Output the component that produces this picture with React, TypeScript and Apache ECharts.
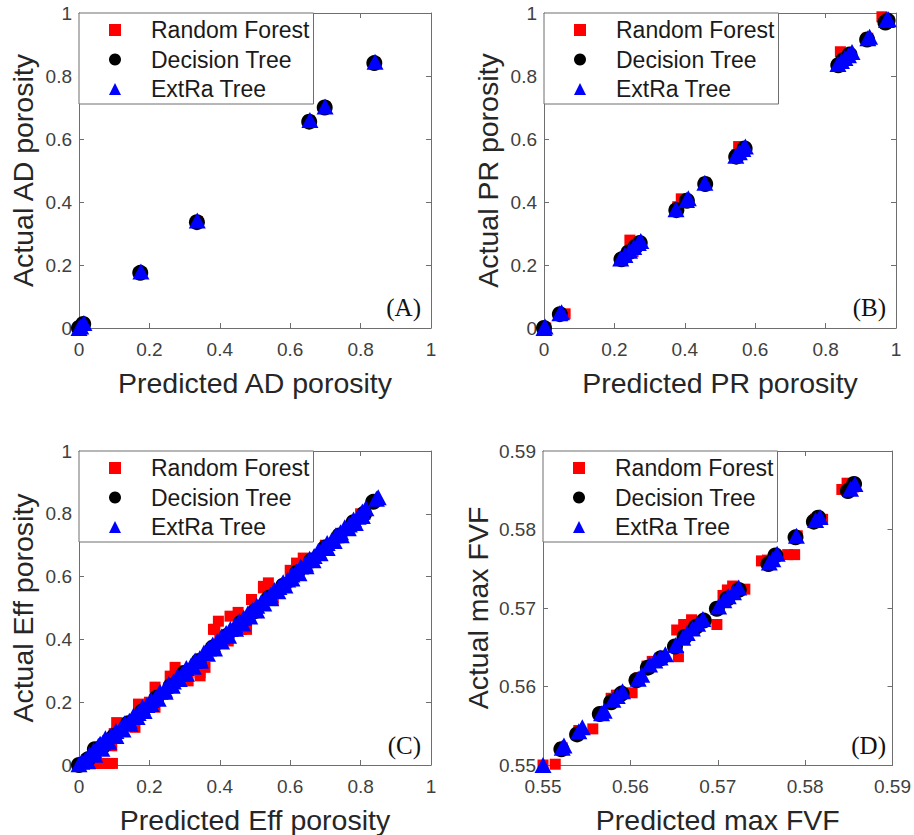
import React, { useEffect, useRef } from "react";
import * as echarts from "echarts";

type Pt = [number, number];

const seriesNames = ["Random Forest", "Decision Tree", "ExtRa Tree"];
const panelLabels = ["(A)", "(B)", "(C)", "(D)"];
const xTitles = ["Predicted AD porosity", "Predicted PR porosity", "Predicted Eff porosity", "Predicted max FVF"];
const yTitles = ["Actual AD porosity", "Actual PR porosity", "Actual Eff porosity", "Actual max FVF"];
const axisMin = [0, 0, 0, 0.55];
const axisMax = [1, 1, 1, 0.59];
const axisStep = [0.2, 0.2, 0.2, 0.01];
const labelDigits = [1, 1, 1, 2];

// Panel A: AD porosity
const rfA: Pt[] = [[0, 0], [0.01, 0.01], [0.175, 0.176], [0.336, 0.338], [0.655, 0.657], [0.699, 0.701], [0.84, 0.843]];
const dtA: Pt[] = [[0, 0], [0.012, 0.013], [0.174, 0.175], [0.335, 0.336], [0.654, 0.655], [0.698, 0.7], [0.839, 0.841]];
const etA: Pt[] = [[0, 0], [0.005, 0.005], [0.014, 0.016], [0.176, 0.179], [0.336, 0.341], [0.656, 0.66], [0.699, 0.703], [0.841, 0.845]];

// Panel B: PR porosity
const rfB: Pt[] = [[0.005, 0], [0.06, 0.045], [0.22, 0.22], [0.244, 0.279], [0.253, 0.242], [0.268, 0.27], [0.38, 0.385], [0.39, 0.41], [0.458, 0.46], [0.553, 0.576], [0.548, 0.55], [0.842, 0.877], [0.85, 0.86], [0.92, 0.92], [0.96, 0.988], [0.975, 0.975]];
const dtB: Pt[] = [[0, 0], [0.045, 0.044], [0.22, 0.218], [0.24, 0.24], [0.26, 0.258], [0.272, 0.27], [0.376, 0.374], [0.406, 0.404], [0.458, 0.457], [0.546, 0.544], [0.57, 0.57], [0.836, 0.834], [0.85, 0.85], [0.868, 0.868], [0.918, 0.916], [0.97, 0.97], [0.976, 0.976]];
const etB: Pt[] = [[0, 0], [0.003, 0.005], [0.045, 0.047], [0.05, 0.05], [0.218, 0.221], [0.23, 0.232], [0.243, 0.245], [0.255, 0.257], [0.268, 0.27], [0.275, 0.276], [0.375, 0.377], [0.405, 0.406], [0.41, 0.412], [0.457, 0.461], [0.545, 0.547], [0.555, 0.558], [0.565, 0.568], [0.572, 0.576], [0.835, 0.838], [0.845, 0.848], [0.855, 0.857], [0.865, 0.866], [0.875, 0.876], [0.92, 0.92], [0.925, 0.925], [0.973, 0.978], [0.978, 0.98]];

// Panel C: Eff porosity
const rfC: Pt[] = [[0.005, 0.0], [0.04, 0.005], [0.055, 0.005], [0.07, 0.005], [0.085, 0.005], [0.095, 0.005], [0.093, 0.061], [0.1, 0.1], [0.107, 0.135], [0.159, 0.12], [0.169, 0.194], [0.173, 0.188], [0.2, 0.2], [0.211, 0.188], [0.216, 0.248], [0.216, 0.184], [0.259, 0.283], [0.273, 0.311], [0.3, 0.3], [0.306, 0.273], [0.31, 0.268], [0.344, 0.284], [0.344, 0.294], [0.358, 0.311], [0.382, 0.432], [0.386, 0.432], [0.396, 0.458], [0.4, 0.4], [0.42, 0.4], [0.424, 0.395], [0.429, 0.474], [0.452, 0.486], [0.462, 0.432], [0.476, 0.432], [0.49, 0.527], [0.5, 0.5], [0.505, 0.485], [0.524, 0.564], [0.524, 0.569], [0.538, 0.58], [0.547, 0.532], [0.552, 0.527], [0.59, 0.58], [0.6, 0.62], [0.618, 0.643], [0.637, 0.659], [0.7, 0.7], [0.8, 0.8], [0.84, 0.84]];
const dtC: Pt[] = [[0, 0], [0.025, 0.018], [0.045, 0.05], [0.065, 0.056], [0.1, 0.092], [0.14, 0.133], [0.18, 0.171], [0.22, 0.214], [0.26, 0.251], [0.3, 0.293], [0.34, 0.331], [0.38, 0.374], [0.42, 0.411], [0.46, 0.453], [0.5, 0.49], [0.54, 0.533], [0.58, 0.571], [0.62, 0.613], [0.66, 0.651], [0.7, 0.693], [0.74, 0.731], [0.78, 0.773], [0.81, 0.8], [0.836, 0.838]];
const etC: Pt[] = [[0, 0.002], [0.008, 0.01], [0.018, 0.016], [0.03, 0.034], [0.042, 0.047], [0.055, 0.061], [0.06, 0.068], [0.068, 0.072], [0.075, 0.085], [0.08, 0.079], [0.092, 0.095], [0.105, 0.108], [0.118, 0.116], [0.13, 0.133], [0.143, 0.141], [0.155, 0.158], [0.168, 0.166], [0.18, 0.184], [0.193, 0.191], [0.205, 0.207], [0.218, 0.215], [0.23, 0.233], [0.243, 0.24], [0.255, 0.258], [0.268, 0.266], [0.28, 0.283], [0.293, 0.29], [0.305, 0.309], [0.318, 0.316], [0.33, 0.333], [0.343, 0.34], [0.355, 0.358], [0.368, 0.371], [0.38, 0.384], [0.393, 0.395], [0.405, 0.409], [0.418, 0.42], [0.43, 0.433], [0.443, 0.444], [0.455, 0.458], [0.468, 0.469], [0.48, 0.483], [0.493, 0.494], [0.505, 0.507], [0.518, 0.519], [0.53, 0.532], [0.543, 0.542], [0.555, 0.557], [0.568, 0.567], [0.58, 0.582], [0.593, 0.591], [0.605, 0.607], [0.618, 0.616], [0.63, 0.632], [0.643, 0.641], [0.655, 0.657], [0.668, 0.666], [0.68, 0.682], [0.693, 0.691], [0.705, 0.707], [0.718, 0.716], [0.73, 0.732], [0.743, 0.741], [0.755, 0.757], [0.768, 0.766], [0.78, 0.782], [0.793, 0.791], [0.805, 0.807], [0.815, 0.818], [0.845, 0.848], [0.85, 0.853],
  [0.025, 0.012], [0.045, 0.033], [0.065, 0.052], [0.085, 0.074], [0.105, 0.092], [0.125, 0.113], [0.145, 0.131], [0.165, 0.153], [0.185, 0.172], [0.205, 0.194], [0.225, 0.211], [0.245, 0.233], [0.265, 0.252], [0.285, 0.274], [0.305, 0.291], [0.325, 0.313], [0.345, 0.332], [0.365, 0.354], [0.385, 0.371], [0.405, 0.393], [0.425, 0.412], [0.445, 0.434], [0.465, 0.451], [0.485, 0.473], [0.505, 0.492], [0.525, 0.514], [0.545, 0.531], [0.565, 0.553], [0.585, 0.572], [0.605, 0.594], [0.625, 0.611], [0.645, 0.633], [0.665, 0.652], [0.685, 0.674], [0.705, 0.691], [0.725, 0.713], [0.745, 0.732], [0.765, 0.754], [0.785, 0.771], [0.805, 0.793]];

// Panel D: max FVF
const rfD: Pt[] = [[0.55, 0.55], [0.5514, 0.5501], [0.5522, 0.5522], [0.5541, 0.5544], [0.5557, 0.5546], [0.5567, 0.5567], [0.5578, 0.5585], [0.5584, 0.5589], [0.5602, 0.5592], [0.561, 0.5611], [0.5619, 0.5626], [0.5625, 0.5632], [0.5634, 0.5635], [0.5655, 0.5638], [0.5653, 0.5672], [0.5661, 0.5679], [0.567, 0.5685], [0.5699, 0.5679], [0.5706, 0.5716], [0.5711, 0.5723], [0.5717, 0.5728], [0.5731, 0.5724], [0.575, 0.576], [0.5757, 0.5761], [0.578, 0.5768], [0.5788, 0.5768], [0.5791, 0.5792], [0.5812, 0.5813], [0.582, 0.5813], [0.5842, 0.5851], [0.5848, 0.5859], [0.5855, 0.5854]];
const dtD: Pt[] = [[0.5499, 0.5499], [0.5521, 0.552], [0.5539, 0.5539], [0.5565, 0.5565], [0.5578, 0.558], [0.559, 0.5591], [0.5607, 0.5608], [0.562, 0.5624], [0.5635, 0.5636], [0.5651, 0.5651], [0.5662, 0.5663], [0.5675, 0.5676], [0.5684, 0.5684], [0.5699, 0.5699], [0.5711, 0.5712], [0.5724, 0.5723], [0.5758, 0.5756], [0.5766, 0.5767], [0.5789, 0.579], [0.581, 0.581], [0.5815, 0.5815], [0.5849, 0.5849], [0.5856, 0.5858]];
const etD: Pt[] = [[0.55, 0.55], [0.5522, 0.5522], [0.5524, 0.5525], [0.5541, 0.5543], [0.5545, 0.5548], [0.5567, 0.5566], [0.557, 0.5569], [0.558, 0.5583], [0.5585, 0.5588], [0.5591, 0.5594], [0.5609, 0.561], [0.5613, 0.5615], [0.5622, 0.5628], [0.5628, 0.5633], [0.5634, 0.5637], [0.564, 0.5641], [0.5652, 0.5653], [0.566, 0.5662], [0.5665, 0.5668], [0.5671, 0.5674], [0.5677, 0.568], [0.5683, 0.5686], [0.5701, 0.5702], [0.5707, 0.571], [0.5712, 0.5715], [0.5718, 0.572], [0.5724, 0.5726], [0.5759, 0.5758], [0.5763, 0.5762], [0.5768, 0.5769], [0.579, 0.5792], [0.5812, 0.5812], [0.5817, 0.5816], [0.5852, 0.5852], [0.5857, 0.5858]];

const panelData: Pt[][][] = [
  [rfA, dtA, etA],
  [rfB, dtB, etB],
  [rfC, dtC, etC],
  [rfD, dtD, etD],
];

const gridBoxes = [
  { left: 79, top: 13, width: 352, height: 315 },
  { left: 544, top: 13, width: 352, height: 315 },
  { left: 79, top: 451, width: 352, height: 315 },
  { left: 543, top: 451, width: 353, height: 315 },
];
const yNameGaps = [42, 42, 42, 51];

const FONT = 'Arial, "Liberation Sans", Helvetica, sans-serif';
const AXIS_COLOR = "#6e6e6e";

const seriesStyles = [
  { symbol: "rect", symbolSize: 11, color: "#ff0000" },
  { symbol: "circle", symbolSize: 16, color: "#000000" },
  { symbol: "triangle", symbolSize: [17, 16], color: "#0000ff" },
];

export default function App() {
  const ref = useRef<HTMLDivElement>(null);
  useEffect(() => {
    document.body.style.margin = "0";
    if (!ref.current) return;
    const chart = echarts.init(ref.current, undefined, { renderer: "svg" });

    const xAxis: any[] = [];
    const yAxis: any[] = [];
    const series: any[] = [];
    const legend: any[] = [];
    const graphic: any[] = [];

    gridBoxes.forEach((g, i) => {
      const digits = labelDigits[i];
      const fmt = (v: number) => String(Number(v.toFixed(digits)));
      const common = {
        gridIndex: i,
        type: "value",
        min: axisMin[i],
        max: axisMax[i],
        interval: axisStep[i],
        splitLine: { show: false },
        axisLine: { show: true, onZero: false, lineStyle: { color: AXIS_COLOR, width: 1 } },
        axisTick: { show: true, inside: true, length: 5, lineStyle: { color: AXIS_COLOR } },
      };
      xAxis.push({
        ...common,
        position: "bottom",
        name: xTitles[i],
        nameLocation: "middle",
        nameGap: 40,
        nameTextStyle: { fontSize: 28.5, color: "#262626", fontFamily: FONT },
        axisLabel: { fontSize: 19, color: "#404040", margin: 12, fontFamily: FONT, formatter: fmt },
      });
      xAxis.push({ ...common, position: "top", axisLabel: { show: false } });
      yAxis.push({
        ...common,
        position: "left",
        name: yTitles[i],
        nameLocation: "middle",
        nameGap: yNameGaps[i],
        nameTextStyle: { fontSize: 28.5, color: "#262626", fontFamily: FONT },
        axisLabel: { fontSize: 19, color: "#404040", margin: 7, fontFamily: FONT, formatter: fmt },
      });
      yAxis.push({ ...common, position: "right", axisLabel: { show: false } });

      panelData[i].forEach((pts, s) => {
        const st = seriesStyles[s];
        series.push({
          type: "scatter",
          name: seriesNames[s],
          xAxisIndex: 2 * i,
          yAxisIndex: 2 * i,
          symbol: st.symbol,
          symbolSize: st.symbolSize,
          itemStyle: { color: st.color, opacity: 1 },
          data: pts,
          z: 2 + s,
          emphasis: { disabled: true },
        });
      });

      legend.push({
        left: g.left,
        top: g.top,
        orient: "vertical",
        itemWidth: 12,
        itemHeight: 12,
        itemGap: 6.5,
        padding: [5.5, 4, 3.5, 30],
        borderColor: AXIS_COLOR,
        borderWidth: 1,
        borderRadius: 0,
        backgroundColor: "#ffffff",
        selectedMode: false,
        textStyle: { fontSize: 23, color: "#1a1a1a", fontFamily: FONT, padding: [0, 0, 0, 25] },
        data: seriesNames,
        z: 10,
      });

      graphic.push({
        type: "text",
        x: g.left + g.width - 10,
        y: g.top + g.height - 21,
        z: 20,
        style: {
          text: panelLabels[i],
          fontSize: 25,
          fontFamily: '"Liberation Serif", "Times New Roman", serif',
          fill: "#111111",
          align: "right",
          verticalAlign: "middle",
        },
      });
    });

    chart.setOption({
      animation: false,
      backgroundColor: "#ffffff",
      grid: gridBoxes.map((g) => ({ ...g, containLabel: false })),
      xAxis,
      yAxis,
      series,
      legend,
      graphic,
    });
    return () => chart.dispose();
  }, []);
  return <div ref={ref} style={{ width: 914, height: 835, position: "absolute", left: 0, top: 0 }} />;
}
